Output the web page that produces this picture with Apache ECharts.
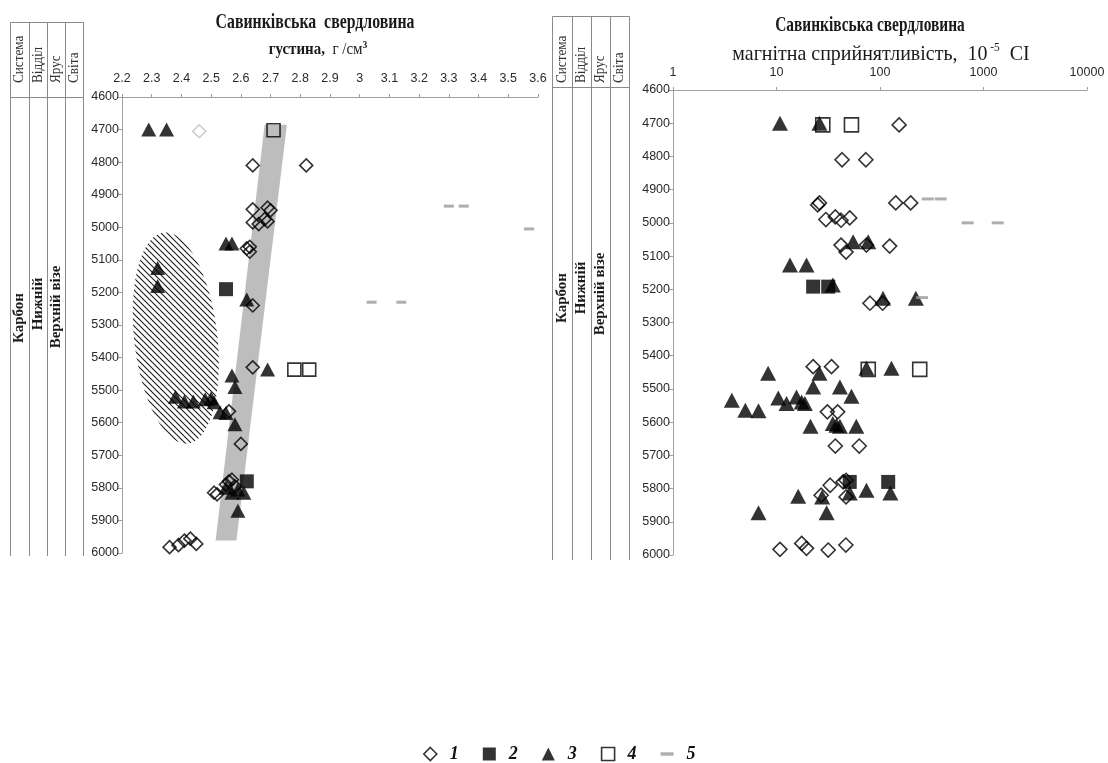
<!DOCTYPE html>
<html><head><meta charset="utf-8">
<script src="https://cdn.jsdelivr.net/npm/echarts@6/dist/echarts.min.js"></script>
<style>html,body{margin:0;padding:0;background:#fff}#c{width:1108px;height:763px}</style>
</head><body><div id="c"></div>
<script>
// ---------------- DATA ----------------
const depthRange = [4600, 6000, 100];
const densityRange = [2.2, 3.6, 0.1];
const magRange = [1, 10000];

const wellTitle = 'Савинківська  свердловина';
const wellTitle2 = 'Савинківська свердловина';
const densLabel = ['густина,', '  г /см', '3'];
const magLabel = ['магнітна сприйнятливість,  10', ' -5', '  СІ'];
const stratHeaders = ['Система', 'Відділ', 'Ярус', 'Світа'];
const stratUnits = ['Карбон', 'Нижній', 'Верхній візе'];
const legendNames = ['1', '2', '3', '4', '5'];

// density (g/cm3) vs depth (m)
const dens1 = [[2.64,4810],[2.82,4810],[2.64,4945],[2.69,4940],[2.70,4948],[2.64,4985],[2.66,4990],[2.68,4975],[2.69,4982],
  [2.62,5065],[2.63,5060],[2.63,5075],[2.64,5240],[2.64,5430],[2.56,5565],[2.60,5665],[2.51,5815],[2.52,5820],
  [2.56,5780],[2.57,5775],[2.58,5795],[2.55,5790],[2.36,5982],[2.39,5976],[2.41,5962],[2.43,5956],[2.45,5972]];
const dens1Faded = [[2.46,4705]];
const dens2 = [[2.55,5190],[2.62,5780]];
const dens3 = [[2.29,4700],[2.35,4700],[2.55,5050],[2.57,5050],[2.32,5125],[2.32,5180],[2.62,5222],[2.69,5437],
  [2.57,5455],[2.58,5490],[2.38,5520],[2.41,5535],[2.44,5535],[2.48,5528],[2.50,5525],[2.51,5537],[2.53,5568],
  [2.55,5570],[2.58,5605],[2.55,5800],[2.57,5815],[2.59,5805],[2.61,5815],[2.59,5870]];
const dens4 = [[2.71,4702],[2.78,5437],[2.83,5437]];
const dens5 = [[3.30,4935],[3.35,4935],[3.57,5005],[3.04,5230],[3.14,5230]];
const densBand = [[2.68,4685],[2.755,4685],[2.585,5962],[2.515,5962]];
const densZoneCenter = [2.381, 5340];
const densZoneRadii = [0.140, 326];
const densZoneTilt = 6.5;

// magnetic susceptibility (10^-5 SI) vs depth (m)
const mag1 = [[153,4705],[43,4810],[73,4810],[26,4940],[25,4946],[142,4940],[198,4940],[30,4990],[37,4982],[42,4992],[51,4985],
  [42,5067],[47,5088],[74,5067],[124,5070],[80,5242],[106,5242],[22.6,5433],[34,5433],[31,5569],[39,5569],[37,5672],[63,5672],
  [33,5790],[44,5780],[47,5775],[27,5820],[47,5825],[10.8,5983],[17.5,5965],[19.5,5980],[31.6,5985],[46.8,5970]];
const mag2 = [[22.6,5192],[31.6,5192],[51,5780],[120,5780]];
const mag3 = [[10.8,4700],[26,4700],[55,5057],[77,5057],[13.5,5127],[19.5,5127],[35,5187],[107,5227],[222,5227],
  [26,5453],[8.3,5453],[74,5438],[129,5438],[22.6,5494],[41,5494],[53,5522],[3.7,5534],[10.4,5527],[12.5,5544],
  [15.6,5524],[17.5,5539],[18.8,5544],[5.0,5564],[6.7,5566],[21.3,5612],[35,5604],[38,5609],[41,5612],[59,5612],
  [16.2,5823],[27.6,5825],[51,5813],[74,5805],[126,5813],[30.5,5873],[6.7,5873]];
const mag4 = [[28,4705],[53,4705],[77,5441],[242,5441]];
const mag5 = [[289,4928],[386,4928],[703,5000],[1371,5000],[255,5225]];

// ---------------- STYLE / LAYOUT ----------------
const SERIF = '"Liberation Serif", "Times New Roman", serif';
const SANS = '"Liberation Sans", Arial, sans-serif';
const axisGray = '#a0a0a0';
const tableGray = '#8a8a8a';

function makeHatch() {
  const s = 6, cv = document.createElement('canvas');
  cv.width = s; cv.height = s;
  const g = cv.getContext('2d');
  g.strokeStyle = '#1a1a1a'; g.lineWidth = 1.1;
  g.beginPath();
  for (let k = -1; k <= 1; k++) { g.moveTo(k * s - 1, -1); g.lineTo(k * s + s + 1, s + 1); }
  g.stroke();
  return cv;
}
const hatch = makeHatch();

const openStyle = {color: 'rgba(0,0,0,0)', borderColor: '#000', borderWidth: 1.6};
const fillStyle = {color: '#000'};
const dashStyle = {color: '#9a9a9a'};

function yAxisFor(grid) {
  return {
    type: 'value', gridIndex: grid, inverse: true,
    min: depthRange[0], max: depthRange[1], interval: depthRange[2],
    axisLine: {show: true, onZero: false, lineStyle: {color: axisGray}},
    axisTick: {show: true, length: 4, lineStyle: {color: axisGray}},
    axisLabel: {margin: 3, color: '#2a2a2a', fontSize: 12.5, fontFamily: SANS, formatter: v => String(v)},
    splitLine: {show: false}
  };
}

function scatter(name, xi, data, symbol, size, style, z) {
  return {type: 'scatter', name, xAxisIndex: xi, yAxisIndex: xi, data, symbol, symbolSize: size,
    itemStyle: style, z: z || 3, silent: true, emphasis: {disabled: true}};
}

// table (stratigraphic column) graphics
function tableGraphics(cols, top, head, bottom, headBaseY, unitYs, unitColIdx) {
  const els = [];
  const px = v => Math.round(v) + 0.5;
  cols.forEach(x => els.push({type: 'line', shape: {x1: px(x), y1: px(top), x2: px(x), y2: bottom}, style: {stroke: tableGray, lineWidth: 1}}));
  [top, head].forEach(y => els.push({type: 'line', shape: {x1: px(cols[0]), y1: px(y), x2: px(cols[cols.length - 1]), y2: px(y)}, style: {stroke: tableGray, lineWidth: 1}}));
  stratHeaders.forEach((t, i) => {
    els.push({type: 'text', x: (cols[i] + cols[i + 1]) / 2, y: headBaseY, rotation: Math.PI / 2, scaleX: 0.88,
      style: {text: t, font: '15px ' + SERIF, fill: '#333', textAlign: 'left', textVerticalAlign: 'middle'}});
  });
  stratUnits.forEach((t, i) => {
    const c = unitColIdx[i];
    els.push({type: 'text', x: (cols[c] + cols[c + 1]) / 2, y: unitYs[i], rotation: Math.PI / 2,
      style: {text: t, font: 'bold 15px ' + SERIF, fill: '#1a1a1a', textAlign: 'center', textVerticalAlign: 'middle'}});
  });
  return els;
}

const graphics = [].concat(
  tableGraphics([10, 29, 47, 65, 83], 22, 97, 556, 83, [318, 304, 307], [0, 1, 2]),
  tableGraphics([552, 572, 591, 610, 629], 16, 87, 560, 83, [298, 288, 294], [0, 1, 2]),
  [
    {type: 'text', x: 315, y: 22, scaleX: 0.72, style: {text: wellTitle, font: 'bold 22px ' + SERIF, fill: '#1a1a1a', textAlign: 'center', textVerticalAlign: 'middle'}},
    {type: 'text', x: 318, y: 50, scaleX: 0.88, style: {
      text: '{b|' + densLabel[0] + '}{r|' + densLabel[1] + '}{s|' + densLabel[2] + '}',
      textAlign: 'center', textVerticalAlign: 'middle', fill: '#1a1a1a',
      rich: {b: {font: 'bold 17px ' + SERIF, lineHeight: 20}, r: {font: '17px ' + SERIF, lineHeight: 20},
             s: {font: 'bold 11px ' + SERIF, lineHeight: 20, verticalAlign: 'top'}}}},
    {type: 'text', x: 870, y: 25, scaleX: 0.70, style: {text: wellTitle2, font: 'bold 22px ' + SERIF, fill: '#1a1a1a', textAlign: 'center', textVerticalAlign: 'middle'}},
    {type: 'text', x: 881, y: 54, scaleX: 0.95, style: {
      text: '{r|' + magLabel[0] + '}{s|' + magLabel[1] + '}{r|' + magLabel[2] + '}',
      textAlign: 'center', textVerticalAlign: 'middle', fill: '#1a1a1a',
      rich: {r: {font: '21px ' + SERIF, lineHeight: 24}, s: {font: '12px ' + SERIF, lineHeight: 24, verticalAlign: 'top'}}}}
  ]
);

const option = {
  animation: false,
  backgroundColor: '#fff',
  grid: [
    {left: 122, top: 97, width: 416, height: 456},
    {left: 673, top: 90, width: 414, height: 465}
  ],
  xAxis: [
    {type: 'value', gridIndex: 0, position: 'top', min: densityRange[0], max: densityRange[1], interval: densityRange[2],
      axisLine: {show: true, onZero: false, lineStyle: {color: axisGray}},
      axisTick: {show: true, length: 3, lineStyle: {color: axisGray}},
      axisLabel: {margin: 12, color: '#2a2a2a', fontSize: 12.5, fontFamily: SANS},
      splitLine: {show: false}},
    {type: 'log', logBase: 10, gridIndex: 1, position: 'top', min: magRange[0], max: magRange[1],
      axisLine: {show: true, onZero: false, lineStyle: {color: axisGray}},
      axisTick: {show: true, length: 3, lineStyle: {color: axisGray}},
      axisLabel: {margin: 11, color: '#2a2a2a', fontSize: 12.5, fontFamily: SANS, formatter: v => String(v)},
      minorTick: {show: false}, splitLine: {show: false}}
  ],
  yAxis: [yAxisFor(0), yAxisFor(1)],
  legend: {
    left: 423, top: 745, padding: 0, itemWidth: 13, itemHeight: 13, itemGap: 24, selectedMode: false,
    textStyle: {fontFamily: SERIF, fontStyle: 'italic', fontWeight: 'bold', fontSize: 18, color: '#111', padding: [0, 0, 0, 8]},
    data: [
      {name: legendNames[0], icon: 'diamond', itemStyle: openStyle},
      {name: legendNames[1], icon: 'rect', itemStyle: fillStyle},
      {name: legendNames[2], icon: 'triangle', itemStyle: fillStyle},
      {name: legendNames[3], icon: 'rect', itemStyle: openStyle},
      {name: legendNames[4], icon: 'path://M0,0L10,0L10,2.6L0,2.6Z', itemStyle: dashStyle}
    ]
  },
  graphic: graphics,
  series: [
    {type: 'custom', name: 'band', xAxisIndex: 0, yAxisIndex: 0, z: 1, silent: true, data: [densBand[0]],
      renderItem: (p, api) => ({type: 'polygon', shape: {points: densBand.map(d => api.coord(d))}, style: {fill: '#bdbdbd'}})},
    {type: 'custom', name: 'zone', xAxisIndex: 0, yAxisIndex: 0, z: 1, silent: true, data: [densZoneCenter],
      renderItem: (p, api) => {
        const c = api.coord(densZoneCenter);
        const s = api.size([1, 1]);
        const a = densZoneRadii[0] * s[0], b = densZoneRadii[1] * s[1];
        const th = densZoneTilt * Math.PI / 180;
        const pts = [];
        for (let i = 0; i < 90; i++) {
          const t = i / 90 * 2 * Math.PI;
          const lx = a * Math.cos(t), ly = b * Math.sin(t);
          pts.push([c[0] + lx * Math.cos(th) + ly * Math.sin(th), c[1] - lx * Math.sin(th) + ly * Math.cos(th)]);
        }
        return {type: 'polygon', shape: {points: pts}, style: {fill: {image: hatch, repeat: 'repeat'}, stroke: null}};
      }},
    scatter('faded', 0, dens1Faded, 'diamond', 13, {color: 'rgba(0,0,0,0)', borderColor: '#bdbdbd', borderWidth: 1.5}),
    scatter(legendNames[0], 0, dens1, 'diamond', 13, openStyle),
    scatter(legendNames[1], 0, dens2, 'rect', 14, fillStyle),
    scatter(legendNames[2], 0, dens3, 'triangle', [15, 14], fillStyle),
    scatter(legendNames[3], 0, dens4, 'rect', 13, openStyle),
    scatter(legendNames[4], 0, dens5, 'rect', [10, 3], dashStyle),
    scatter(legendNames[0], 1, mag1, 'diamond', 14, openStyle),
    scatter(legendNames[1], 1, mag2, 'rect', 14, fillStyle),
    scatter(legendNames[2], 1, mag3, 'triangle', [16, 15], fillStyle),
    scatter(legendNames[3], 1, mag4, 'rect', 14, openStyle),
    scatter(legendNames[4], 1, mag5, 'rect', [12, 3], dashStyle)
  ]
};

const chart = echarts.init(document.getElementById('c'), null, {renderer: 'canvas'});
chart.setOption(option);
</script>
</body></html>
